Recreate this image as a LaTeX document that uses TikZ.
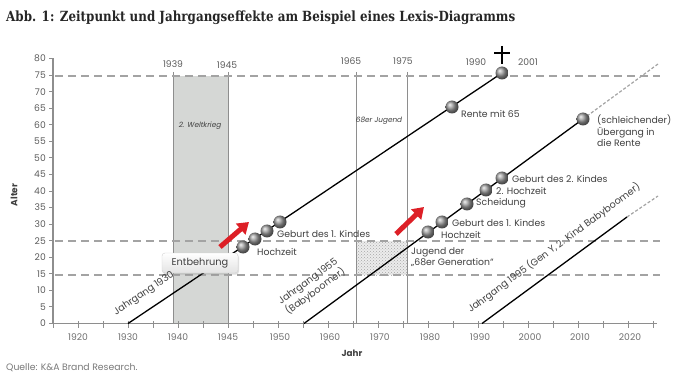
\documentclass[tikz,border=0pt]{standalone}
\usepackage{fontspec}
\setmainfont{Poppins}
\newfontfamily\titlefont{DejaVu Serif}
\usetikzlibrary{arrows.meta,shadows,patterns}
\definecolor{txt}{HTML}{404040}
\definecolor{axgray}{HTML}{8E8E8E}
\definecolor{dashgray}{HTML}{A3A3A3}
\definecolor{wwgray}{HTML}{D5D7D5}
\definecolor{arrred}{HTML}{DD1F26}
\begin{document}
\begin{tikzpicture}[x=1pt,y=-1pt,
  lbl/.style={font=\fontsize{9.3}{11}\selectfont, text=txt, inner sep=0pt},
  lbll/.style={lbl, anchor=west},
  num/.style={font=\fontsize{9.2}{11}\selectfont, text=txt!85, inner sep=0pt},
  small/.style={font=\fontsize{7.3}{8}\selectfont\itshape, text=txt, inner sep=0pt},
  ball/.style={circle, minimum size=13pt, inner sep=0pt, shade, ball color=gray!80},
  life/.style={line width=1.3pt, black},
  ghost/.style={line width=1.2pt, dashgray, dash pattern=on 3pt off 2pt},
  hdash/.style={line width=1.1pt, dashgray, dash pattern=on 8pt off 5pt},
  redarrow/.style={arrred, line width=5pt, -{Triangle[length=11pt,width=14pt]}},
  vline/.style={axgray, line width=0.8pt}]
\useasboundingbox (0,0) rectangle (678,385);
\fill[white] (0,0) rectangle (678,385);
% title
\node[anchor=west, inner sep=0pt, text=black!85] (title) at (6,18)
  {\scalebox{0.85}[1]{\titlefont\bfseries\fontsize{14}{16}\selectfont Abb. 1: Zeitpunkt und Jahrgangseffekte am Beispiel eines Lexis-Diagramms}};
% war area
\fill[wwgray] (173,76) rectangle (228,323.5);
\draw[vline] (173,72) -- (173,323.5);
\draw[vline] (228,72) -- (228,323.5);
\node[small] (ww) at (200,126) {2. Weltkrieg};
% 68 area
\fill[gray!15] (356,241) rectangle (407,275);
\fill[pattern=crosshatch dots, pattern color=gray!70] (356,241) rectangle (407,275);
\draw[vline] (356,72) -- (356,323.5);
\draw[vline] (407,72) -- (407,323.5);
\node[small] (j68) at (379,121) {68er Jugend};
% dashed horizontals
\draw[hdash] (55,76) -- (660,76);
\draw[hdash] (55,241) -- (660,241);
\draw[hdash] (55,275) -- (660,275);
% axes
\draw[axgray, line width=1.2pt] (53,323.5) -- (657,323.5);
\draw[axgray, line width=1.2pt] (53,323.5) -- (53,58);
\foreach \k in {0,...,24} \draw[axgray, line width=1pt] ({53+25*\k},321) -- ({53+25*\k},328);
\foreach \v in {0,5,...,80} {
  \draw[axgray, line width=0.9pt] (49,{323.5-\v*3.3125}) -- (53,{323.5-\v*3.3125});
  \node[num, anchor=east] at (46,{323.5-\v*3.3125}) {\v};
}
\foreach \x/\t in {78/1920,128/1930,178/1940,228/1945,280/1950,330/1960,380/1970,430/1980,480/1990,530/2000,580/2010,630/2020}
  \node[num, text=txt!75] at (\x,337) {\t};
\node[font=\fontsize{9}{10}\selectfont\bfseries, text=txt, rotate=90] (alter) at (14,195) {Alter};
\node[font=\fontsize{8.8}{10}\selectfont\bfseries, text=txt] (jahr) at (352,353) {Jahr};
\node[font=\fontsize{9.3}{11}\selectfont, text=txt!70, anchor=west, inner sep=0pt] (quelle) at (6,368) {Quelle: K\&A Brand Research.};
% top year labels
\node[num] (y1939) at (173,64) {1939};
\node[num] (y1945) at (227,65) {1945};
\node[num] (y1965) at (351,61) {1965};
\node[num] (y1975) at (403,61) {1975};
\node[num] (y1990) at (476,62) {1990};
\node[num] (y2001) at (528,62) {2001};
% lifelines coordinates
\coordinate (s1) at (128,323.5);
\coordinate (e1) at (502,73);
\coordinate (s2) at (304,323.5);
\coordinate (e2) at (583,119);
\coordinate (g2) at (658,64);
\coordinate (s3) at (482,323.5);
\coordinate (e3) at (627,217);
\coordinate (g3) at (658,196);
\draw[life] (s1) -- (e1);
\draw[life] (s2) -- (e2);
\draw[ghost] (e2) -- (g2);
\draw[life] (s3) -- (e3);
\draw[ghost] (e3) -- (g3);
% Entbehrung box
\node[draw=gray!35, rounded corners=3pt, top color=white, bottom color=gray!22,
  drop shadow={opacity=0.25, shadow xshift=1pt, shadow yshift=-1.5pt},
  minimum width=76pt, minimum height=20pt, font=\fontsize{9.8}{11}\selectfont, text=txt] (entb) at (200,263) {Entbehrung};
% red arrows
\draw[redarrow] (220,247) -- (249,222);
\draw[redarrow] (396,234) -- (424,207);
% balls line 1
\node[ball] (b11) at (243,247) {};
\node[ball] (b12) at (255,239) {};
\node[ball] (b13) at (267,231) {};
\node[ball] (b14) at (280,222) {};
\node[ball] (b15) at (452,107) {};
\node[ball] (b16) at (e1) {};
% cross
\draw[black, line width=2.6pt] (502,46) -- (502,64);
\draw[black, line width=2.6pt] (494,53) -- (510,53);
% balls line 2
\node[ball] (b21) at (428,232) {};
\node[ball] (b22) at (442,222) {};
\node[ball] (b23) at (467,204) {};
\node[ball] (b24) at (486,190) {};
\node[ball] (b25) at (502,178) {};
\node[ball] (b26) at (e2) {};
% labels line 1
\node[lbll] (l11) at (257,252) {Hochzeit};
\node[lbll] (l12) at (277,234) {Geburt des 1. Kindes};
\node[lbll] (l13) at (461,114) {Rente mit 65};
% labels line 2
\node[lbll] (l21) at (441,235) {Hochzeit};
\node[lbll] (l22) at (452,223) {Geburt des 1. Kindes};
\node[lbll] (l23) at (476,203) {Scheidung};
\node[lbll] (l24) at (496,191) {2. Hochzeit};
\node[lbll] (l25) at (512,179) {Geburt des 2. Kindes};
\node[lbll, align=left, font=\fontsize{9.3}{11.3}\selectfont] (l26) at (597,131) {(schleichender)\\Übergang in\\die Rente};
\node[lbll, align=left, font=\fontsize{9.3}{11.5}\selectfont] (l27) at (411,257) {Jugend der\\„68er Generation“};
% cohort labels
\node[lbl, rotate=33.7, font=\fontsize{9.6}{11}\selectfont] (c1) at (144,294) {Jahrgang 1930};
\node[lbl, rotate=36.2, align=center, font=\fontsize{9.6}{11}\selectfont] (c2) at (312,287) {Jahrgang 1955\\(Babyboomer)};
\node[lbl, rotate=36.2, font=\fontsize{9.6}{11}\selectfont] (c3) at (554,248) {Jahrgang 1995 (Gen Y, 2. Kind Babyboomer)};
\end{tikzpicture}
\end{document}
